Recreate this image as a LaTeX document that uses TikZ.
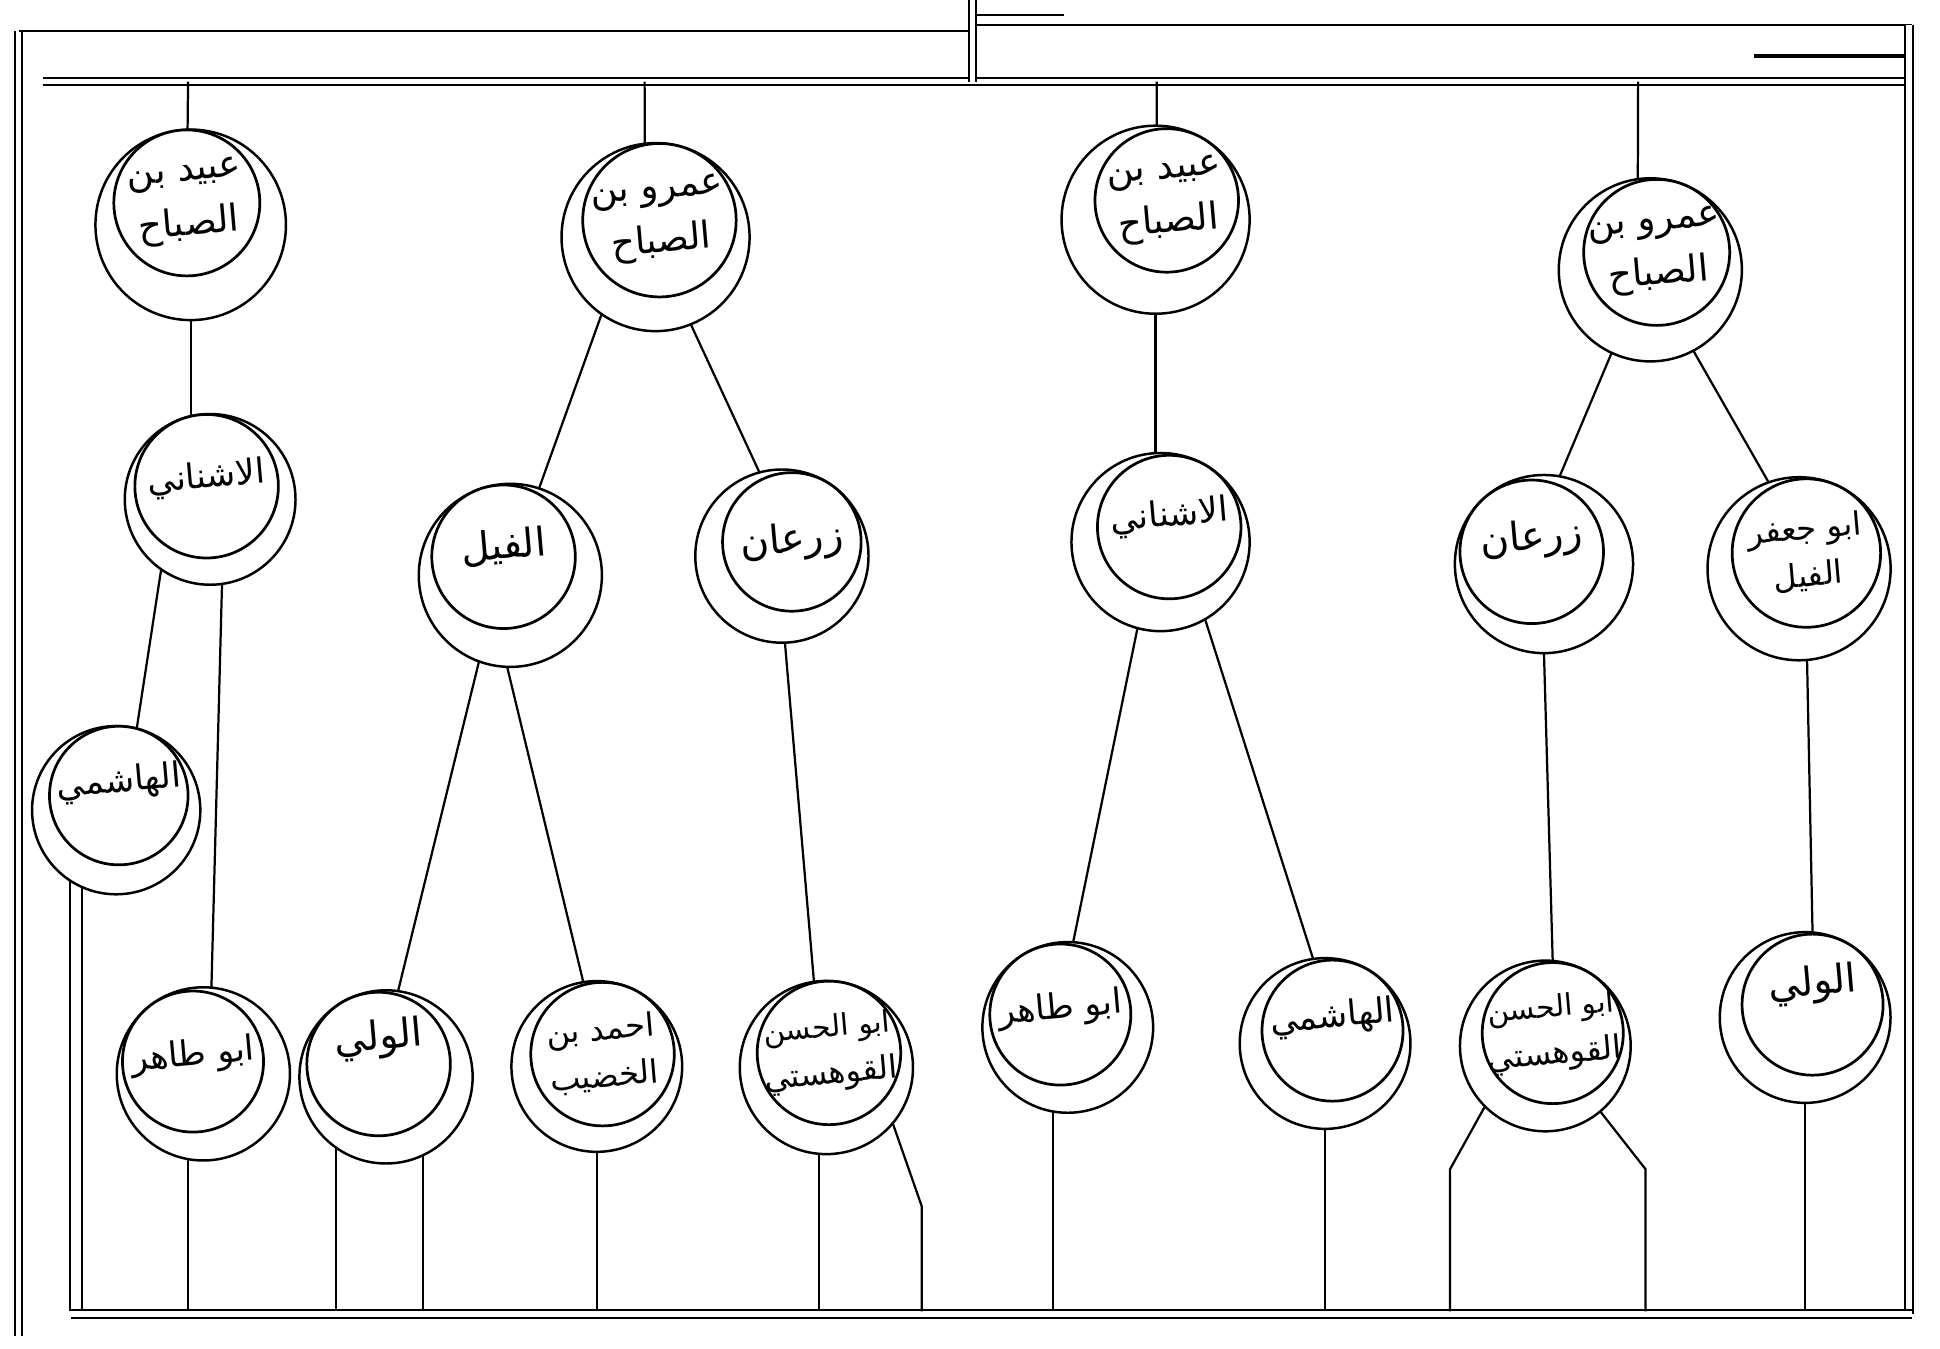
\documentclass[tikz,border=0pt]{standalone}
\usepackage{fontspec}
\newfontfamily\arabicfont[Script=Arabic]{DejaVu Sans}
\TeXXeTstate=1
\usetikzlibrary{calc,backgrounds}
\newcommand\RL[1]{\beginR#1\endR}
\tikzset{
  ln/.style={line width=0.9pt, black},
  dbl/.style={double, double distance=2.2pt, line width=0.8pt, black},
  outerc/.style={circle, draw, line width=1pt, fill=white, inner sep=0pt, outer sep=0pt},
  innerc/.style={circle, draw, line width=1.1pt, fill=white, inner sep=0pt, outer sep=0pt},
  lbl/.style={font=\arabicfont\fontsize{15}{22}\selectfont, align=center, inner sep=0pt, rotate=5},
  lbls/.style={font=\arabicfont\fontsize{13}{19}\selectfont, align=center, inner sep=0pt, rotate=5},
}
% name, x, y, r, angle, d, text shift, text
\newcommand\ring[8]{%
  \node[outerc, minimum size={(#4+#6)*1pt}] (#1o) at ($(#2,-#3)+(#5:#6)$) {};
  \node[innerc, minimum size={#4*1pt}] (#1) at (#2,-#3) {};
  \node[lbl] (#1t) at ($(#2,-#3)+(0,#7)$) {#8};
}
\newcommand\ringS[8]{%
  \node[outerc, minimum size={(#4+#6)*1pt}] (#1o) at ($(#2,-#3)+(#5:#6)$) {};
  \node[innerc, minimum size={#4*1pt}] (#1) at (#2,-#3) {};
  \node[lbls] (#1t) at ($(#2,-#3)+(0,#7)$) {#8};
}
\begin{document}
\begin{tikzpicture}[x=0.5pt,y=0.5pt]
\useasboundingbox (0,0) rectangle (1568,-1090);

% row 1
\ring{A1}{151}{164}{59}{-80}{18}{0}{\RL{عبيد بن}\\\RL{الصباح}}
\ring{A2}{533}{178}{62}{-103}{14}{0}{\RL{عمرو بن}\\\RL{الصباح}}
\ring{A3}{943}{162}{58}{-120}{18}{0}{\RL{عبيد بن}\\\RL{الصباح}}
\ring{A4}{1339}{204}{59}{-110}{15}{0}{\RL{عمرو بن}\\\RL{الصباح}}
% row 2
\ringS{B1}{167}{393}{58}{-75}{11}{6}{\fontsize{14}{20}\selectfont\RL{الاشناني}}
\ring{B2}{407}{450}{58}{-70}{16}{8}{\fontsize{16}{20}\selectfont\RL{الفيل}}
\ring{B3}{640}{438}{56}{-125}{14}{0}{\fontsize{16}{20}\selectfont\RL{زرعان}}
\ringS{B4}{945}{426}{58}{-120}{14}{8}{\fontsize{14}{20}\selectfont\RL{الاشناني}}
\ring{B5}{1238}{446}{58}{-45}{14}{10}{\fontsize{16}{20}\selectfont\RL{زرعان}}
\ringS{B6}{1460}{447}{60}{-115}{14}{0}{\RL{ابو جعفر}\\\RL{الفيل}}
% row 3
\ringS{C1}{96}{643}{56}{-100}{12}{10}{\fontsize{14}{20}\selectfont\RL{الهاشمي}}
% row 4
\ringS{D1}{156}{858}{57}{-50}{13}{4}{\fontsize{14}{20}\selectfont\RL{ابو طاهر}}
\ring{D2}{306}{860}{58}{-60}{12}{20}{\fontsize{16}{20}\selectfont\RL{الولي}}
\ringS{D3}{487}{852}{58}{-115}{11}{0}{\RL{احمد بن}\\\RL{الخضيب}}
\ringS{D4}{670}{851}{58}{-100}{12}{0}{\fontsize{12}{19}\selectfont\RL{ابو الحسن}\\\RL{القوهستي}}
\ringS{D5}{857}{820}{57}{-60}{12}{4}{\fontsize{14}{20}\selectfont\RL{ابو طاهر}}
\ringS{D6}{1077}{833}{57}{-120}{12}{10}{\fontsize{14}{20}\selectfont\RL{الهاشمي}}
\ringS{D7}{1255}{835}{57}{-120}{12}{0}{\fontsize{12}{19}\selectfont\RL{ابو الحسن}\\\RL{القوهستي}}
\ring{D8}{1465}{812}{57}{-120}{12}{16}{\fontsize{16}{20}\selectfont\RL{الولي}}

\coordinate (bb) at (0,-1060);
\coordinate (t1) at (152,-66);
\coordinate (t2) at (521,-66);
\coordinate (t3) at (935,-66);
\coordinate (t4) at (1324,-66);
\coordinate (k1) at (745,-975);
\coordinate (k2) at (1172,-945);
\coordinate (k3) at (1330,-945);

\begin{scope}[on background layer]
\fill[white] (0,0) rectangle (1568,-1090);
% frame
\draw[dbl] (15,-25) -- (15,-1080);
\draw[ln] (15,-25) -- (784,-25);
\draw[ln] (789,-20) -- (1545,-20);
\draw[ln] (790,-12) -- (860,-12);
\draw[ln, line width=1.5pt] (1418,-45) -- (1545,-45);
\draw[dbl] (35,-66) -- (1545,-66);
\draw[dbl] (786,0) -- (786,-66);
\draw[dbl] (1543,-20) -- (1543,-1062);
\draw[dbl] (57,-1062) -- (1545,-1062);
% connectors
\draw[ln] (t1) -- (A1.center);
\draw[ln] (t2) -- (A2.101);
\draw[ln] (t3) -- (A3.98);
\draw[ln] (t4) -- (A4.105);
\draw[ln] (A1o.south) -- (A1o.south |- B1.center);
\draw[ln] (A2o.-125) -- (B2.62);
\draw[ln] (A2o.-68) -- (B3.115);
\draw[ln] (A3o.south) -- (A3o.south |- B4.center);
\draw[ln] (A4o.-115) -- (B5.70);
\draw[ln] (A4o.-62) -- (B6.118);
\draw[ln] (B1o.-125) -- (C1.75);
\draw[ln] (B1o.-82) -- (D1.75);
\draw[ln] (B2o.-110) -- (D2.75);
\draw[ln] (B2o.-92) -- (D3.105);
\draw[ln] (B3o.-88) -- (D4.102);
\draw[ln] (B4o.-105) -- (D5.80);
\draw[ln] (B4o.-60) -- (D6.105);
\draw[ln] (B5o.south) -- (D7.north);
\draw[ln] (B6o.-85) -- (D8.north);
% to bottom bar
\draw[ln] (C1o.-123) -- (C1o.-123 |- bb);
\draw[ln] (C1o.-114) -- (C1o.-114 |- bb);
\draw[ln] (D1o.-100) -- (D1o.-100 |- bb);
\draw[ln] (D2o.-125) -- (D2o.-125 |- bb);
\draw[ln] (D2o.-65) -- (D2o.-65 |- bb);
\draw[ln] (D3o.south) -- (D3o.south |- bb);
\draw[ln] (D4o.-95) -- (D4o.-95 |- bb);
\draw[ln] (D4o.-40) -- (k1) -- (k1 |- bb);
\draw[ln] (D5o.-100) -- (D5o.-100 |- bb);
\draw[ln] (D6o.south) -- (D6o.south |- bb);
\draw[ln] (D7o.-135) -- (k2) -- (k2 |- bb);
\draw[ln] (D7o.-50) -- (k3) -- (k3 |- bb);
\draw[ln] (D8o.south) -- (D8o.south |- bb);
\end{scope}
\end{tikzpicture}
\end{document}
